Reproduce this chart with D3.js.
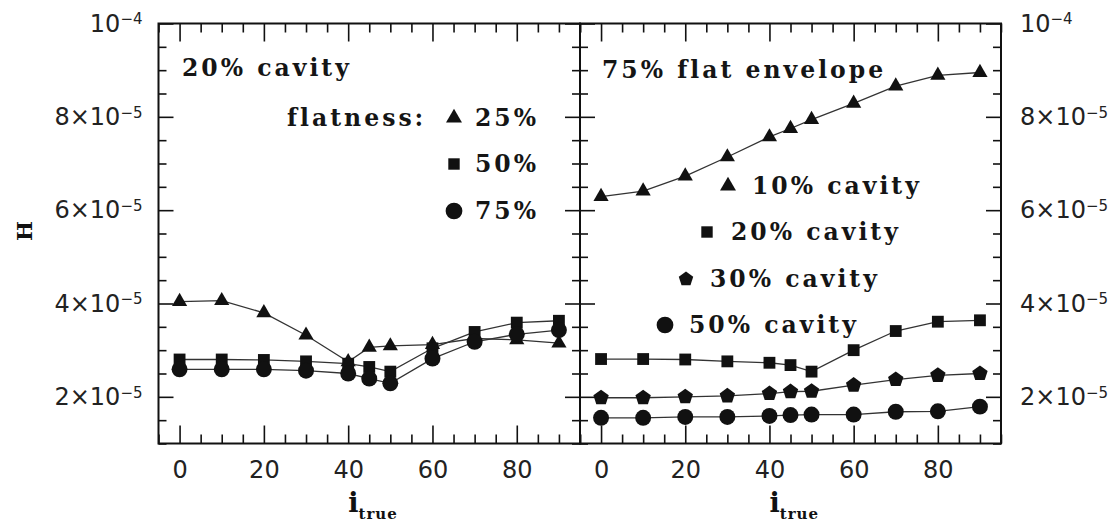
<!DOCTYPE html>
<html>
<head>
<meta charset="utf-8">
<script src="https://cdn.jsdelivr.net/npm/d3@7"></script>
<style>
  body { margin: 0; background: #fff; }
  svg { display: block; }
  .tick line { stroke: #111; stroke-width: 1.6; }
  .domain { display: none; }
  .panelText { font-family: "DejaVu Serif", serif; font-weight: bold; font-size: 23.5px; letter-spacing: 3px; fill: #151515; }
</style>
</head>
<body>
<svg id="chart"></svg>
<script>
// inclination of the disc, degrees
var iTrue = [0, 10, 20, 30, 40, 45, 50, 60, 70, 80, 90]

// left panel: 20% cavity, three flatness values (H in units of 1e-5)
var flat25 = [4.04, 4.06, 3.80, 3.32, 2.75, 3.06, 3.09, 3.12, 3.25, 3.22, 3.15]
var flat50 = [2.80, 2.80, 2.79, 2.76, 2.71, 2.64, 2.54, 3.04, 3.39, 3.59, 3.63]
var flat75 = [2.59, 2.59, 2.59, 2.56, 2.50, 2.39, 2.29, 2.82, 3.18, 3.34, 3.43]

// right panel: 75% flat envelope, four cavity sizes
var cav10 = [6.29, 6.41, 6.73, 7.14, 7.57, 7.75, 7.94, 8.29, 8.66, 8.89, 8.95]
var cav20 = [2.81, 2.81, 2.80, 2.76, 2.73, 2.68, 2.54, 3.00, 3.41, 3.61, 3.64]
var cav30 = [1.98, 1.98, 2.00, 2.02, 2.07, 2.11, 2.12, 2.25, 2.37, 2.46, 2.50]
var cav50 = [1.55, 1.55, 1.57, 1.57, 1.59, 1.61, 1.62, 1.62, 1.68, 1.69, 1.79]

var UNIT = 1e-5
var xTicks = [0, 20, 40, 60, 80]
var yTicks = [2e-5, 4e-5, 6e-5, 8e-5, 1e-4]
var yTickMant = ["2×10", "4×10", "6×10", "8×10", "10"]
var yTickExp = ["−5", "−5", "−5", "−5", "−4"]

var leftLabels = ["25%", "50%", "75%"]
var rightLabels = ["10% cavity", "20% cavity", "30% cavity", "50% cavity"]

// pentagon isn't in d3, so a small custom symbol
var symbolPentagon = {
    draw: function(ctx, size){
        var r = Math.sqrt(size) * 0.62
        for(var k = 0; k < 5; k++){
            var a = -Math.PI/2 + k * 2*Math.PI/5
            if(k == 0) ctx.moveTo(r*Math.cos(a), r*Math.sin(a))
            else ctx.lineTo(r*Math.cos(a), r*Math.sin(a))
        }
        ctx.closePath()
    }
}

const W = 1120, H = 527
const TICKFONT = "DejaVu Sans, Liberation Sans, Arial"
const svg = d3.select("#chart").attr("width", W).attr("height", H)

const y = d3.scaleLinear().domain([1e-5, 1e-4]).range([443.5, 23.5])
const xL = d3.scaleLinear().domain([-5, 95]).range([158.5, 580])
const xR = d3.scaleLinear().domain([-5, 95]).range([580, 1001])

const minorX = d3.range(-5, 96, 5).filter(d => d % 20 != 0)
const minorY = d3.range(1e-5, 1.0001e-4, 0.5e-5).filter(d => Math.round(d/1e-5*10) % 20 != 0)

function drawFrame(x, leftLabelsOn, rightLabelsOn){
    const top = y.range()[1], bot = y.range()[0]
    // x ticks, bottom and top
    svg.append("g").attr("transform", `translate(0,${bot})`)
        .call(d3.axisBottom(x).tickValues(xTicks).tickSize(-18).tickPadding(17))
        .call(g => g.selectAll("text").attr("font-family", TICKFONT).attr("font-size", 24).attr("fill", "#222"))
    svg.append("g").attr("transform", `translate(0,${bot})`)
        .call(d3.axisBottom(x).tickValues(minorX).tickSize(-9).tickFormat(""))
    svg.append("g").attr("transform", `translate(0,${top})`)
        .call(d3.axisTop(x).tickValues(xTicks).tickSize(-18).tickFormat(""))
    svg.append("g").attr("transform", `translate(0,${top})`)
        .call(d3.axisTop(x).tickValues(minorX).tickSize(-9).tickFormat(""))

    var x0 = x.range()[0], x1 = x.range()[1]
    var la = svg.append("g").attr("transform", `translate(${x0},0)`)
        .call(d3.axisLeft(y).tickValues(yTicks).tickSize(-15).tickPadding(16))
    svg.append("g").attr("transform", `translate(${x0},0)`)
        .call(d3.axisLeft(y).tickValues(minorY).tickSize(-8).tickFormat(""))
    var ra = svg.append("g").attr("transform", `translate(${x1},0)`)
        .call(d3.axisRight(y).tickValues(yTicks).tickSize(-15).tickPadding(19))
    svg.append("g").attr("transform", `translate(${x1},0)`)
        .call(d3.axisRight(y).tickValues(minorY).tickSize(-8).tickFormat(""))

    ;[[la, leftLabelsOn], [ra, rightLabelsOn]].forEach(function(p){
        p[0].selectAll(".tick text").each(function(d, i){
            var t = d3.select(this)
            if(!p[1]){ t.remove(); return }
            t.text(null).attr("font-family", TICKFONT).attr("font-size", 24).attr("fill", "#222")
            t.append("tspan").text(yTickMant[i])
            t.append("tspan").attr("dy", "-0.5em").attr("font-size", 15).text(yTickExp[i])
        })
    })

    svg.append("rect").attr("x", x0).attr("y", top).attr("width", x1 - x0).attr("height", bot - top)
        .attr("fill", "none").attr("stroke", "#111").attr("stroke-width", 2)

    // axis title
    var t = svg.append("text").attr("x", (x0 + x1)/2 - 21).attr("y", 512)
        .attr("font-family", "DejaVu Serif, serif").attr("font-weight", "bold")
        .attr("font-size", 27).attr("fill", "#111")
    t.append("tspan").text("i")
    t.append("tspan").attr("dy", 7).attr("font-size", 15).attr("letter-spacing", 1).text("true")
}

drawFrame(xL, true, false)
drawFrame(xR, false, true)

svg.append("text").attr("transform", "translate(32,231) rotate(-90)")
    .attr("text-anchor", "middle")
    .attr("font-family", "DejaVu Serif, serif").attr("font-weight", "bold")
    .attr("font-size", 21).attr("fill", "#111").text("H")

const shapes = {
    tri: d3.symbol(d3.symbolTriangle, 100),
    sq: d3.symbol(d3.symbolSquare, 140),
    circ: d3.symbol(d3.symbolCircle, 200),
    pent: d3.symbol(symbolPentagon, 170)
}

function drawSeries(x, vals, shape){
    var pts = iTrue.map((d, i) => [d, vals[i] * UNIT])
    svg.append("path").datum(pts)
        .attr("d", d3.line().x(d => x(d[0])).y(d => y(d[1])))
        .attr("fill", "none").attr("stroke", "#333").attr("stroke-width", 1.3)
    svg.append("g").selectAll("path").data(pts).enter().append("path")
        .attr("transform", d => `translate(${x(d[0])},${y(d[1])})`)
        .attr("d", shapes[shape]).attr("fill", "#111")
}

drawSeries(xL, flat25, "tri")
drawSeries(xL, flat50, "sq")
drawSeries(xL, flat75, "circ")

drawSeries(xR, cav10, "tri")
drawSeries(xR, cav20, "sq")
drawSeries(xR, cav30, "pent")
drawSeries(xR, cav50, "circ")

// panel captions and legends
svg.append("text").attr("class", "panelText").attr("x", 182).attr("y", 76).text("20% cavity")
svg.append("text").attr("class", "panelText").attr("x", 602).attr("y", 78).text("75% flat envelope")
svg.append("text").attr("class", "panelText").attr("x", 287).attr("y", 126).text("flatness:")

var leftKeys = [d3.symbolTriangle, d3.symbolSquare, d3.symbolCircle]
var leftSizes = [110, 130, 220]
var leftRows = [118, 164, 211]
leftLabels.forEach(function(lab, i){
    svg.append("path").attr("transform", `translate(454,${leftRows[i]})`)
        .attr("d", d3.symbol(leftKeys[i], leftSizes[i])).attr("fill", "#111")
    svg.append("text").attr("class", "panelText").attr("x", 475).attr("y", leftRows[i] + 8).text(lab)
})

var rightKeys = [d3.symbolTriangle, d3.symbolSquare, symbolPentagon, d3.symbolCircle]
var rightSizes = [110, 130, 150, 220]
var rightRows = [[728, 186], [707, 232], [686, 279], [665, 325]]
rightLabels.forEach(function(lab, i){
    svg.append("path").attr("transform", `translate(${rightRows[i][0]},${rightRows[i][1]})`)
        .attr("d", d3.symbol(rightKeys[i], rightSizes[i])).attr("fill", "#111")
    svg.append("text").attr("class", "panelText").attr("x", rightRows[i][0] + 24).attr("y", rightRows[i][1] + 8).text(lab)
})
</script>
</body>
</html>
